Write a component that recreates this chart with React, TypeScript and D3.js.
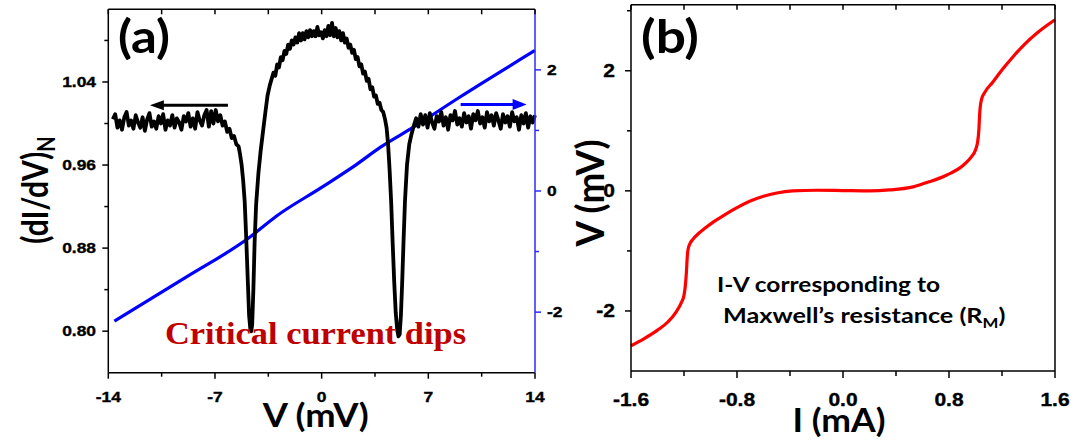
import React from "react";
import * as d3 from "d3";

// ---------- DATA ----------
// Panel (a): normalized differential conductance (dI/dV)_N vs V (mV)
const dIdVLeft: [number, number][] = [
  [-13.70,1.004],[-13.55,1.009],[-13.40,0.996],[-13.25,1.003],[-13.10,0.994],[-12.95,1.006],[-12.80,1.011],[-12.65,0.998],[-12.50,1.003],[-12.35,0.995],
  [-12.20,1.008],[-12.05,1.001],[-11.90,0.996],[-11.75,1.006],[-11.60,0.993],[-11.45,1.004],[-11.30,1.010],[-11.15,0.997],[-11.00,1.002],[-10.85,0.995],
  [-10.70,1.007],[-10.55,1.000],[-10.40,1.009],[-10.25,0.994],[-10.10,1.003],[-9.95,0.998],[-9.80,1.008],[-9.65,0.996],[-9.50,1.005],[-9.35,1.001],
  [-9.20,0.994],[-9.05,1.007],[-8.90,1.002],[-8.75,1.010],[-8.60,0.997],[-8.45,1.005],[-8.30,0.995],[-8.15,1.011],[-8.00,1.003],[-7.85,0.998],
  [-7.70,1.008],[-7.55,1.013],[-7.40,0.997],[-7.25,1.012],[-7.10,1.000],[-6.95,1.013],[-6.80,1.002],[-6.65,1.008],
  [-6.50,0.998],[-6.35,1.002],[-6.20,0.992],[-6.05,0.995],[-5.90,0.986],[-5.75,0.988],[-5.60,0.980],[-5.45,0.978],[-5.35,0.970],[-5.25,0.960],
  [-5.15,0.945],[-5.05,0.925],[-4.95,0.890],[-4.85,0.850],[-4.76,0.815],[-4.68,0.802],[-4.62,0.800],[-4.56,0.806],[-4.48,0.840],[-4.40,0.885],
  [-4.30,0.922],[-4.15,0.952],[-4.00,0.974],[-3.85,0.992],[-3.70,1.010],[-3.55,1.027],[-3.40,1.037],[-3.28,1.043],
];
const dIdVCenter: [number, number][] = [
  [-3.16,1.049],[-3.04,1.046],[-2.92,1.057],[-2.80,1.054],[-2.68,1.064],[-2.56,1.061],[-2.44,1.070],[-2.32,1.067],[-2.20,1.076],[-2.08,1.072],
  [-1.96,1.080],[-1.84,1.076],[-1.72,1.083],[-1.60,1.078],[-1.48,1.087],[-1.36,1.080],[-1.24,1.087],[-1.12,1.081],[-1.00,1.089],[-0.88,1.083],
  [-0.76,1.090],[-0.64,1.084],[-0.52,1.089],[-0.40,1.084],[-0.28,1.093],[-0.16,1.085],[-0.04,1.088],[0.08,1.082],[0.20,1.090],[0.32,1.084],
  [0.44,1.094],[0.56,1.085],[0.68,1.097],[0.80,1.084],[0.92,1.092],[1.04,1.083],[1.16,1.089],[1.28,1.080],[1.40,1.087],[1.52,1.078],
  [1.64,1.082],[1.76,1.073],[1.88,1.076],[2.00,1.068],[2.12,1.071],[2.24,1.062],[2.36,1.064],[2.48,1.055],[2.60,1.057],[2.72,1.048],
  [2.84,1.050],[2.96,1.041],[3.08,1.043],[3.20,1.033],[3.32,1.035],[3.44,1.026],[3.56,1.027],[3.68,1.019],[3.80,1.020],[3.92,1.013],
  [4.04,1.011],[4.16,1.004],[4.26,0.996],[4.36,0.980],[4.46,0.955],[4.56,0.925],[4.66,0.885],[4.76,0.848],[4.86,0.818],[4.96,0.801],
  [5.04,0.795],[5.12,0.797],[5.20,0.815],[5.28,0.845],[5.37,0.885],[5.47,0.926],[5.60,0.960],[5.75,0.980],[5.90,0.990],[6.05,0.998],
];
const dIdVRight: [number, number][] = [
  [6.20,1.005],[6.35,0.997],[6.50,1.009],[6.65,0.999],[6.80,1.008],[6.95,0.996],[7.10,1.010],[7.25,1.001],[7.40,0.995],[7.55,1.007],
  [7.70,1.002],[7.85,1.011],[8.00,0.998],[8.15,1.006],[8.30,0.994],[8.45,1.008],[8.60,1.003],[8.75,1.012],[8.90,0.999],[9.05,1.005],
  [9.20,0.997],[9.35,1.010],[9.50,1.001],[9.65,1.007],[9.80,0.995],[9.95,1.009],[10.10,1.003],[10.25,1.012],[10.40,1.000],[10.55,1.006],
  [10.70,0.996],[10.85,1.011],[11.00,1.002],[11.15,1.008],[11.30,0.998],[11.45,1.010],[11.60,1.003],[11.75,0.995],[11.90,1.009],[12.05,1.001],
  [12.20,1.007],[12.35,0.997],[12.50,1.011],[12.65,1.002],[12.80,1.006],[12.95,0.994],[13.10,1.008],[13.25,1.000],[13.40,1.010],[13.55,0.996],
  [13.70,1.007],[13.85,1.001],[14.00,1.008],
];
// Panel (a): right-axis (blue) curve
const blueV = [-13.6, -9, -4.7, -3, 0, 2.3, 3.84, 6, 9, 14];
const blueY = [-2.15, -1.44, -0.76, -0.42, 0.06, 0.44, 0.72, 1.05, 1.54, 2.32];

// Panel (b): I-V curve
const ivI = [-1.6,-1.5,-1.4,-1.32,-1.26,-1.22,-1.2,-1.19,-1.182,-1.176,-1.17,-1.155,-1.13,-1.09,-1.04,-0.98,-0.9,-0.8,-0.7,-0.6,-0.5,-0.38,-0.2,0,0.2,0.35,0.53,0.65,0.78,0.91,0.97,1.0,1.015,1.025,1.032,1.045,1.07,1.13,1.21,1.29,1.37,1.46,1.53,1.6];
const ivV = [-2.58,-2.46,-2.32,-2.18,-2.02,-1.86,-1.74,-1.58,-1.36,-1.12,-0.98,-0.88,-0.8,-0.71,-0.62,-0.52,-0.41,-0.28,-0.17,-0.09,-0.035,0.0,0.01,0.005,0.0,0.015,0.067,0.15,0.26,0.43,0.57,0.68,0.8,1.0,1.3,1.52,1.64,1.81,2.04,2.25,2.44,2.62,2.74,2.85];

// Tick values
const aXMajor = [-14, -7, 0, 7, 14];
const aXMinor = [-10.5, -3.5, 3.5, 10.5];
const aYMajor = [0.8, 0.88, 0.96, 1.04];
const aYMinor = [0.84, 0.92, 1.0, 1.08];
const aY2Major = [-2, 0, 2];
const aY2Minor = [-1, 1];
const bXMajor = [-1.6, -0.8, 0, 0.8, 1.6];
const bXMinor = [-1.2, -0.4, 0.4, 1.2];
const bYMajor = [-2, 0, 2];
const bYMinor = [-1, 1, 3];

// Annotation anchors (data coords)
const blackArrow = { from: -6.15, to: -11.27, level: 1.0176 };
const blueArrow = { from: 9.12, to: 13.45, level: 1.0182 };

// ---------- LAYOUT ----------
const W = 1075, H = 441;
const xA = d3.scaleLinear().domain([-14, 14]).range([108.3, 535]);
const yA = d3.scaleLinear().domain([0.76, 1.11]).range([372.7, 9.3]);
const yA2 = d3.scaleLinear().domain([-3, 3]).range([372.7, 9.3]);
const xB = d3.scaleLinear().domain([-1.6, 1.6]).range([631, 1055]);
const yB = d3.scaleLinear().domain([-3, 3.1]).range([371, 4.7]);

const SANS = "Lato, 'Open Sans', sans-serif";
const TICKF = "'Liberation Sans', Arial, sans-serif";
const BLUE = "#0000ff";
const AXBLUE = "#2b2bff";

function Lbl({ x, y, anchor, size, children }: any) {
  return (
    <g transform={`translate(${x},${y}) scale(1.2,1)`}>
      <text textAnchor={anchor} fontFamily={TICKF} fontWeight="bold" fontSize={size} fill="#000"
        stroke="#000" strokeWidth={0.35}>
        {children}
      </text>
    </g>
  );
}

export default function App() {
  const blackData = [...dIdVLeft, ...dIdVCenter, ...dIdVRight];
  const blackLine = d3.line<[number, number]>().x((d) => xA(d[0])).y((d) => yA(d[1]));
  const blueLine = d3
    .line<number>()
    .x((_, i) => xA(blueV[i]))
    .y((d) => yA2(d))
    .curve(d3.curveMonotoneX);
  const redLine = d3
    .line<number>()
    .x((_, i) => xB(ivI[i]))
    .y((d) => yB(d))
    .curve(d3.curveMonotoneX);

  const [aL, aR] = xA.range();
  const [aB, aT] = yA.range();
  const [bL, bR] = xB.range();
  const [bB, bT] = yB.range();

  const bax1 = xA(blackArrow.from), bax2 = xA(blackArrow.to), bay = yA(blackArrow.level);
  const blx1 = xA(blueArrow.from), blx2 = xA(blueArrow.to), bly = yA(blueArrow.level);

  return (
    <svg width={W} height={H} style={{ position: "absolute", left: 0, top: 0, background: "#fff" }}>
      <rect width={W} height={H} fill="#fff" />
      {/* ================= PANEL A ================= */}
      <g>
        <path d={blueLine(blueY) || ""} fill="none" stroke={BLUE} strokeWidth={3.2} />
        <path d={blackLine(blackData) || ""} fill="none" stroke="#000" strokeWidth={3.8} strokeLinejoin="round" />
        {/* arrows */}
        <line x1={bax1} x2={bax2 + 12} y1={bay} y2={bay} stroke="#000" strokeWidth={3} />
        <polygon points={`${bax2},${bay} ${bax2 + 14},${bay - 5} ${bax2 + 14},${bay + 5}`} fill="#000" />
        <line x1={blx1} x2={blx2 - 12} y1={bly} y2={bly} stroke={BLUE} strokeWidth={3} />
        <polygon points={`${blx2},${bly} ${blx2 - 14},${bly - 5.5} ${blx2 - 14},${bly + 5.5}`} fill={BLUE} />

        {/* frame */}
        <line x1={aL} x2={aR} y1={aT} y2={aT} stroke="#000" strokeWidth={1.5} />
        <line x1={aL} x2={aR} y1={aB} y2={aB} stroke="#000" strokeWidth={1.5} />
        <line x1={aL} x2={aL} y1={aT} y2={aB} stroke="#000" strokeWidth={1.5} />
        <line x1={aR} x2={aR} y1={aT} y2={aB} stroke={AXBLUE} strokeWidth={1.5} />
        {aXMajor.map((v) => (
          <g key={"axM" + v}>
            <line x1={xA(v)} x2={xA(v)} y1={aB} y2={aB + 6} stroke="#000" strokeWidth={1.5} />
            <line x1={xA(v)} x2={xA(v)} y1={aT} y2={aT + 5} stroke="#000" strokeWidth={1.5} />
            <Lbl x={xA(v)} y={402} anchor="middle" size={14.5}>{String(v)}</Lbl>
          </g>
        ))}
        {aXMinor.map((v) => (
          <g key={"axm" + v}>
            <line x1={xA(v)} x2={xA(v)} y1={aB} y2={aB + 4} stroke="#000" strokeWidth={1.5} />
            <line x1={xA(v)} x2={xA(v)} y1={aT} y2={aT + 5} stroke="#000" strokeWidth={1.5} />
          </g>
        ))}
        {aYMajor.map((v) => (
          <g key={"ayM" + v}>
            <line x1={aL - 6} x2={aL} y1={yA(v)} y2={yA(v)} stroke="#000" strokeWidth={1.5} />
            <Lbl x={96} y={yA(v) + 5.2} anchor="end" size={14.5}>{v.toFixed(2)}</Lbl>
          </g>
        ))}
        {aYMinor.map((v) => (
          <line key={"aym" + v} x1={aL - 4} x2={aL} y1={yA(v)} y2={yA(v)} stroke="#000" strokeWidth={1.5} />
        ))}
        {aY2Major.map((v) => (
          <g key={"ay2M" + v}>
            <line x1={aR} x2={aR + 6} y1={yA2(v)} y2={yA2(v)} stroke={AXBLUE} strokeWidth={1.5} />
            <Lbl x={547} y={yA2(v) + 5.2} anchor="start" size={14.5}>{String(v)}</Lbl>
          </g>
        ))}
        {aY2Minor.map((v) => (
          <line key={"ay2m" + v} x1={aR} x2={aR + 4} y1={yA2(v)} y2={yA2(v)} stroke={AXBLUE} strokeWidth={1.5} />
        ))}

        {/* titles */}
        <text x={315.8} y={427} textAnchor="middle" fontFamily={SANS} fontWeight="bold" fontSize={33}
          textLength={106} lengthAdjust="spacingAndGlyphs">V (mV)</text>
        <g transform="translate(48,190) scale(1.2,1) rotate(-90)">
          <text textAnchor="middle" fontFamily={SANS} fontWeight="bold" fontSize={30}>
            (dI/dV)<tspan fontSize={20} dy={6}>N</tspan>
          </text>
        </g>
        <text x={118} y={53} fontFamily={SANS} fontWeight="bold" fontSize={46} textLength={52}
          lengthAdjust="spacingAndGlyphs">(a)</text>
        <text x={165} y={344} fontFamily="'Liberation Serif', 'Times New Roman', serif" fontWeight="bold"
          fontSize={32} fill="#c00000" textLength={301} lengthAdjust="spacingAndGlyphs">Critical current dips</text>
      </g>

      {/* ================= PANEL B ================= */}
      <g>
        <path d={redLine(ivV) || ""} fill="none" stroke="#ff0000" strokeWidth={3.2} />
        <line x1={bL} x2={bR} y1={bT} y2={bT} stroke="#000" strokeWidth={1.5} />
        <line x1={bL} x2={bR} y1={bB} y2={bB} stroke="#000" strokeWidth={1.5} />
        <line x1={bL} x2={bL} y1={bT} y2={bB} stroke="#000" strokeWidth={1.5} />
        <line x1={bR} x2={bR} y1={bT} y2={bB} stroke="#000" strokeWidth={1.5} />
        {bXMajor.map((v) => (
          <g key={"bxM" + v}>
            <line x1={xB(v)} x2={xB(v)} y1={bB} y2={bB + 7} stroke="#000" strokeWidth={1.5} />
            <line x1={xB(v)} x2={xB(v)} y1={bT} y2={bT + 5} stroke="#000" strokeWidth={1.5} />
            <Lbl x={xB(v)} y={405.5} anchor="middle" size={17.5}>{v.toFixed(1)}</Lbl>
          </g>
        ))}
        {bXMinor.map((v) => (
          <g key={"bxm" + v}>
            <line x1={xB(v)} x2={xB(v)} y1={bB} y2={bB + 5} stroke="#000" strokeWidth={1.5} />
            <line x1={xB(v)} x2={xB(v)} y1={bT} y2={bT + 5} stroke="#000" strokeWidth={1.5} />
          </g>
        ))}
        {bYMajor.map((v) => (
          <g key={"byM" + v}>
            <line x1={bL - 6} x2={bL} y1={yB(v)} y2={yB(v)} stroke="#000" strokeWidth={1.5} />
            <Lbl x={615} y={yB(v) + 6.2} anchor="end" size={17.5}>{String(v)}</Lbl>
          </g>
        ))}
        {bYMinor.map((v) => (
          <line key={"bym" + v} x1={bL - 4} x2={bL} y1={yB(v)} y2={yB(v)} stroke="#000" strokeWidth={1.5} />
        ))}

        <text x={839} y={432} textAnchor="middle" fontFamily={SANS} fontWeight="bold" fontSize={33}
          textLength={93} lengthAdjust="spacingAndGlyphs">I (mA)</text>
        <g transform="translate(604,193) scale(1.1,1) rotate(-90)">
          <text textAnchor="middle" fontFamily={SANS} fontWeight="bold" fontSize={34}
            textLength={107} lengthAdjust="spacingAndGlyphs">V (mV)</text>
        </g>
        <text x={641} y={53} fontFamily={SANS} fontWeight="bold" fontSize={46} textLength={58}
          lengthAdjust="spacingAndGlyphs">(b)</text>
        <text x={717} y={291.7} fontFamily={SANS} fontWeight="bold" fontSize={21} textLength={223}
          lengthAdjust="spacingAndGlyphs">I-V corresponding to</text>
        <g transform="translate(723,323.3) scale(1.2,1)">
          <text fontFamily={SANS} fontWeight="bold" fontSize={21}>
            Maxwell’s resistance (R<tspan fontSize={14} dy={5}>M</tspan><tspan dy={-5}>)</tspan>
          </text>
        </g>
      </g>
    </svg>
  );
}
